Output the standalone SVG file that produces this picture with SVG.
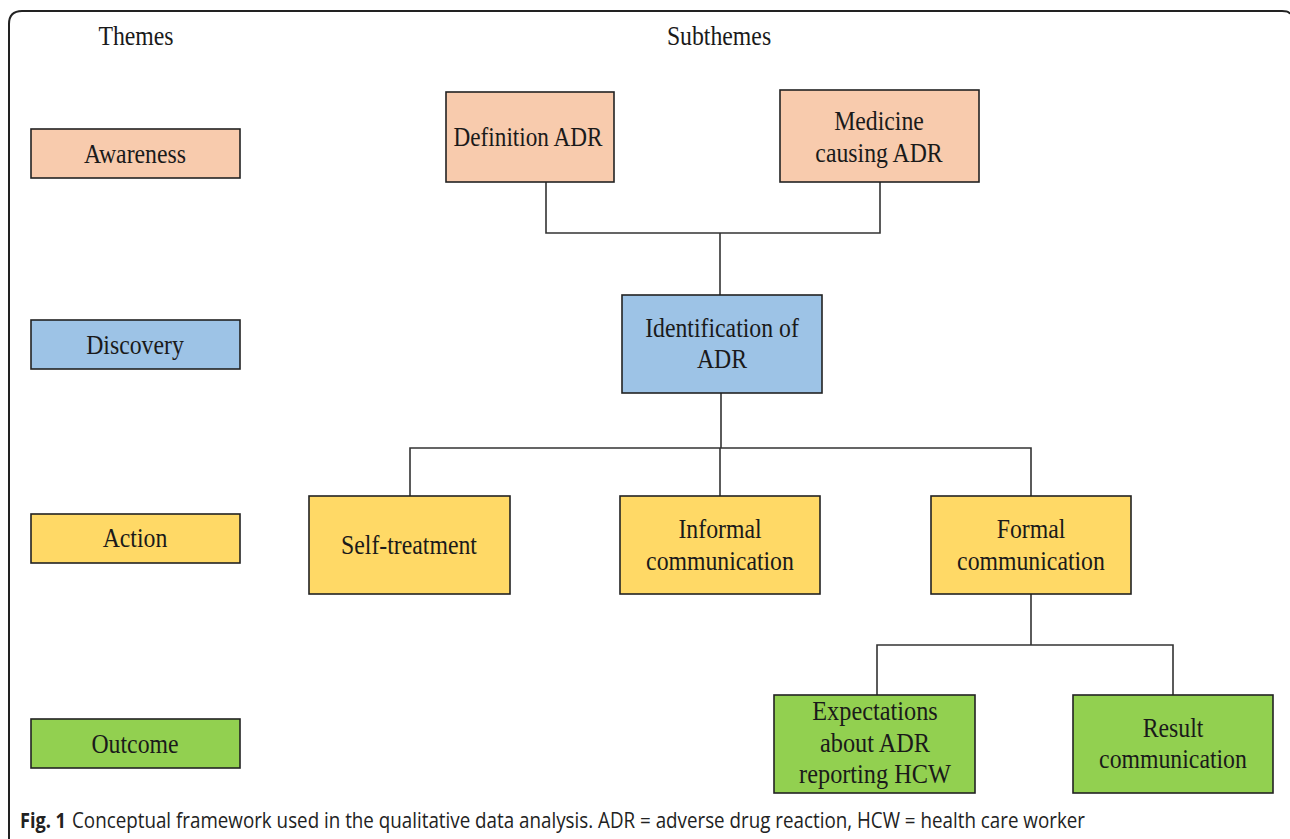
<svg xmlns="http://www.w3.org/2000/svg" width="1290" height="839" viewBox="0 0 1290 839">
<style>
.t{font-family:"Times New Roman","Liberation Serif",Tinos,serif;font-size:27px;fill:#1a1a1a;text-anchor:middle}
.box{stroke:#222;stroke-width:1.6}
.aw{fill:#F8CBAD}.di{fill:#9DC3E6}.ac{fill:#FFD966}.ou{fill:#92D050}
.c{fill:none;stroke:#333;stroke-width:1.6}
.cap{font-family:"Open Sans","Liberation Sans",sans-serif;font-size:22px;fill:#222}
</style>
<rect width="1290" height="839" fill="#fff"/>
<path d="M9,839 V24 Q9,11 22,11 H1282 Q1289,11 1290,14" fill="none" stroke="#222" stroke-width="2"/>
<text class="t" transform="translate(136,45) scale(0.88,1)">Themes</text>
<text class="t" transform="translate(719,45) scale(0.88,1)">Subthemes</text>
<g id="theme-awareness"><rect class="box aw" x="31" y="129" width="209" height="49"/><text class="t" transform="translate(135,163) scale(0.88,1)">Awareness</text></g>
<g id="theme-discovery"><rect class="box di" x="31" y="320" width="209" height="49"/><text class="t" transform="translate(135,354) scale(0.88,1)">Discovery</text></g>
<g id="theme-action"><rect class="box ac" x="31" y="514" width="209" height="49"/><text class="t" transform="translate(135,547) scale(0.88,1)">Action</text></g>
<g id="theme-outcome"><rect class="box ou" x="31" y="719" width="209" height="49"/><text class="t" transform="translate(135,753) scale(0.88,1)">Outcome</text></g>
<g id="connectors">
<path class="c" d="M546,182 V233 H880 V182"/>
<path class="c" d="M720,233 V295"/>
<path class="c" d="M721,393 V448"/>
<path class="c" d="M410,496 V448 H1031 V496"/>
<path class="c" d="M720,448 V496"/>
<path class="c" d="M1031,594 V645"/>
<path class="c" d="M877,695 V645 H1173 V695"/>
</g>
<g id="definition-adr"><rect class="box aw" x="446" y="92" width="168" height="90"/><text class="t" transform="translate(528,146) scale(0.86,1)">Definition ADR</text></g>
<g id="medicine-causing-adr"><rect class="box aw" x="780" y="90" width="199" height="92"/><text class="t" transform="translate(879,130) scale(0.88,1)">Medicine</text><text class="t" transform="translate(879,162) scale(0.88,1)">causing ADR</text></g>
<g id="identification-adr"><rect class="box di" x="622" y="295" width="200" height="98"/><text class="t" transform="translate(722,337) scale(0.88,1)">Identification of</text><text class="t" transform="translate(722,368) scale(0.88,1)">ADR</text></g>
<g id="self-treatment"><rect class="box ac" x="309" y="496" width="201" height="98"/><text class="t" transform="translate(409,554) scale(0.88,1)">Self-treatment</text></g>
<g id="informal-communication"><rect class="box ac" x="620" y="496" width="200" height="98"/><text class="t" transform="translate(720,538) scale(0.88,1)">Informal</text><text class="t" transform="translate(720,570) scale(0.88,1)">communication</text></g>
<g id="formal-communication"><rect class="box ac" x="931" y="496" width="200" height="98"/><text class="t" transform="translate(1031,538) scale(0.88,1)">Formal</text><text class="t" transform="translate(1031,570) scale(0.88,1)">communication</text></g>
<g id="expectations"><rect class="box ou" x="774" y="695" width="201" height="98"/><text class="t" transform="translate(875,720) scale(0.9,1)">Expectations</text><text class="t" transform="translate(875,752) scale(0.9,1)">about ADR</text><text class="t" transform="translate(875,783) scale(0.9,1)">reporting HCW</text></g>
<g id="result-communication"><rect class="box ou" x="1073" y="695" width="200" height="98"/><text class="t" transform="translate(1173,737) scale(0.88,1)">Result</text><text class="t" transform="translate(1173,768) scale(0.88,1)">communication</text></g>
<text class="cap" x="20" y="828" font-weight="bold" textLength="46" lengthAdjust="spacingAndGlyphs">Fig. 1</text>
<text class="cap" x="72" y="828" textLength="1013" lengthAdjust="spacingAndGlyphs">Conceptual framework used in the qualitative data analysis. ADR = adverse drug reaction, HCW = health care worker</text>
</svg>
